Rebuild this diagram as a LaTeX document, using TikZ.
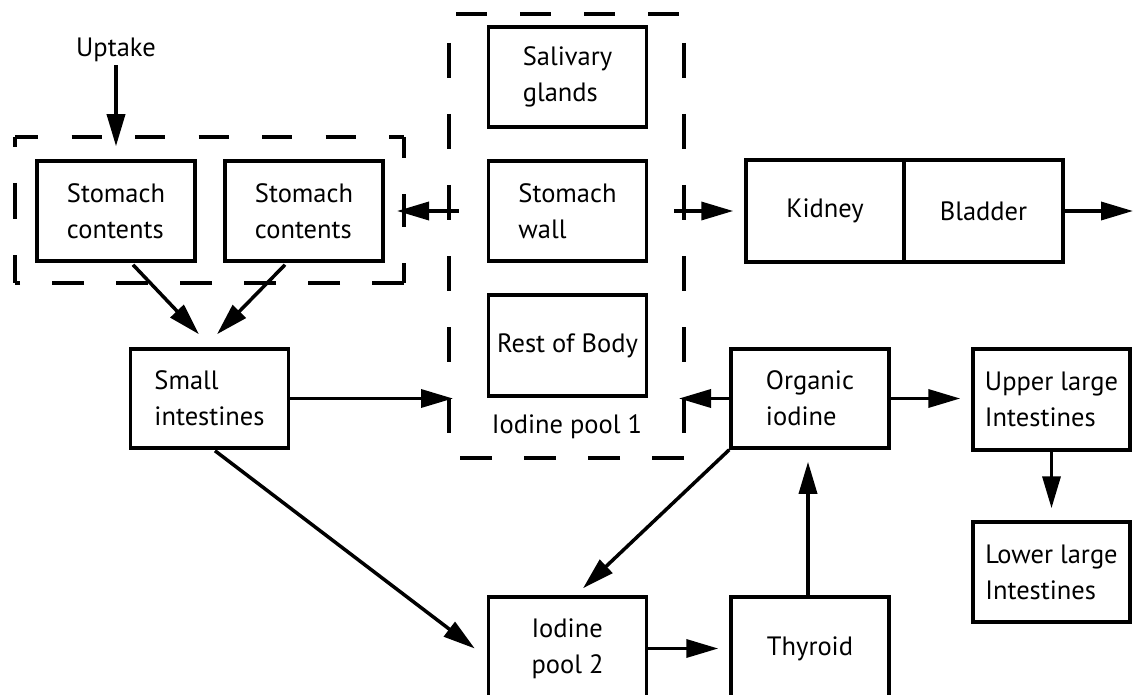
\documentclass[tikz,border=0pt]{standalone}
\usepackage{fontspec}
\setmainfont{PT Sans}
\usetikzlibrary{arrows.meta,calc}
\newcommand\boxfont{\fontsize{26.5}{36}\selectfont}
\begin{document}
\begin{tikzpicture}[x=1pt,y=-1pt,
  box/.style={draw, line width=3.5pt, minimum width=158pt, minimum height=100pt,
              inner sep=0pt, align=left, font=\boxfont},
  lbl/.style={inner sep=0pt, font=\boxfont},
  arr/.style={line width=3.5pt, -{Triangle[length=32pt,width=18pt]}},
  region/.style={line width=3.5pt},
]
\useasboundingbox (0,0) rectangle (1134,695);
\clip (0,0) rectangle (1134,695);

% compartments
\node[box] (sc1) at (116,211) {Stomach\\contents};
\node[box] (sc2) at (304,211) {Stomach\\contents};
\node[box] (saliv) at (567.5,77) {Salivary\\glands};
\node[box] (wall) at (567.5,211) {Stomach\\wall};
\node[box, minimum height=101pt] (rest) at (567.5,345.5) {Rest of Body};
\node[box, minimum height=102pt] (kidney) at (825,211) {Kidney};
\node[box, minimum height=102pt, minimum width=159pt] (bladder) at (983.5,211) {Bladder};
\node[box, minimum height=99pt] (small) at (209.5,398.5) {Small\\intestines};
\node[box, minimum height=99pt] (organic) at (810,398.5) {Organic\\iodine};
\node[box, minimum width=157pt, minimum height=101pt] (upper) at (1051.5,399.5) {Upper large\\Intestines};
\node[box, minimum width=157pt] (lower) at (1051.5,572) {Lower large\\Intestines};
\node[box, minimum height=103pt] (pool2) at (567.5,648.5) {Iodine\\pool 2};
\node[box, minimum height=103pt] (thyroid) at (810,648.5) {Thyroid};

% free labels
\node[lbl, anchor=base] (uptake) at (116,57) {Uptake};
\node[lbl, anchor=base] (pool1lbl) at (567,433) {Iodine pool 1};

% corners of the dashed groupings
\coordinate (g1) at (15,137);
\coordinate (g2) at (404,283);
\coordinate (p1) at (449,14);
\coordinate (p2) at (684,458);
\coordinate (urine) at (1133,211);

% stomach contents group
\draw[region, dash pattern=on 30pt off 33.5pt, dash phase=7pt] (g1) -- (g1 -| g2);
\draw[region, dash pattern=on 32pt off 32pt] (g2) -- (g2 -| g1);
\draw[region, dash pattern=on 36pt off 36pt, dash phase=26pt] (g1) -- (g1 |- g2);
\draw[region, dash pattern=on 33pt off 36pt, dash phase=12pt] (g1 -| g2) -- (g2);

% iodine pool 1 group
\draw[region, dash pattern=on 31pt off 33pt, dash phase=57pt] (p1) -- (p1 -| p2);
\draw[region, dash pattern=on 32pt off 32pt] (p2) -- (p2 -| p1);
\draw[region, dash pattern=on 35pt off 36pt, dash phase=42pt] (p1) -- (p1 |- p2);
\draw[region, dash pattern=on 35pt off 36pt, dash phase=42pt] (p1 -| p2) -- (p2);

% transfers
\draw[arr] ($(uptake.south)+(0,3)$) -- ($(sc1.north)+(0,-13)$);
\draw[arr] ($(sc1.south)+(17,2)$) -- ($(small.north)+(-10.5,-13)$);
\draw[arr] ($(sc2.south)+(-19,2)$) -- ($(small.north)+(7.5,-13)$);
\draw[arr] ($(wall.west)+(-28,0)$) -- ($(g2 |- wall.west)+(-7,0)$);
\draw[arr] ($(wall.east)+(26,0)$) -- ($(kidney.west)+(-11,0)$);
\draw[arr] (bladder.east) -- (urine);
\draw[arr] (small.east) -- ($(p1 |- small.east)+(4,0)$);
\draw[arr] (organic.west) -- ($(p2 |- organic.west)+(-5,0)$);
\draw[arr] (organic.east) -- ($(upper.west |- organic.east)+(-11,0)$);
\draw[arr] (upper.south) -- ($(lower.north)+(0,-12)$);
\draw[arr] ($(small.south)+(5.5,1)$) -- ($(pool2.west)+(-12,0)$);
\draw[arr] (organic.south west) -- ($(pool2.north)+(15.5,-7)$);
\draw[arr] (pool2.east) -- ($(thyroid.west)+(-11,0)$);
\draw[arr] ($(thyroid.north)+(-2,0)$) -- ($(organic.south)+(-2,12)$);
\end{tikzpicture}
\end{document}
